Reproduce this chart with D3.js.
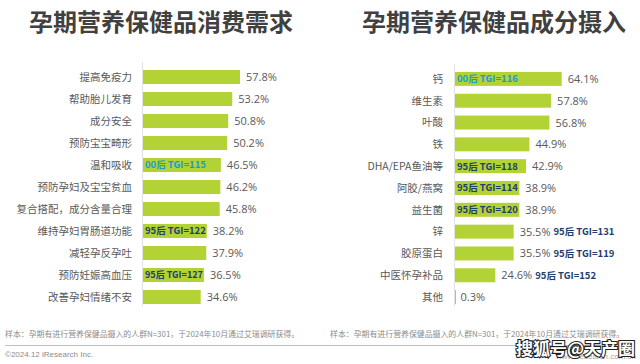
<!DOCTYPE html>
<html><head><meta charset="utf-8">
<script src="https://cdn.jsdelivr.net/npm/d3@7"></script>
<style>body{margin:0;background:#fff}svg{display:block}</style>
</head><body>
<script>
const leftTitle = "孕期营养保健品消费需求";
const leftCats = ["提高免疫力","帮助胎儿发育","成分安全","预防宝宝畸形","温和吸收","预防孕妇及宝宝贫血","复合搭配，成分含量合理","维持孕妇胃肠道功能","减轻孕反孕吐","预防妊娠高血压","改善孕妇情绪不安"];
const leftValues = [57.8,53.2,50.8,50.2,46.5,46.2,45.8,38.2,37.9,36.5,34.6];
const leftTGI = ["","","","","00后 TGI=115","","","95后 TGI=122","","95后 TGI=127",""];
const leftTGIOutside = [false,false,false,false,false,false,false,false,false,false,false];

const rightTitle = "孕期营养保健品成分摄入";
const rightCats = ["钙","维生素","叶酸","铁","DHA/EPA鱼油等","阿胶/燕窝","益生菌","锌","胶原蛋白","中医怀孕补品","其他"];
const rightValues = [64.1,57.8,56.8,44.9,42.9,38.9,38.9,35.5,35.5,24.6,0.3];
const rightTGI = ["00后 TGI=116","","","","95后 TGI=118","95后 TGI=114","95后 TGI=120","95后 TGI=131","95后 TGI=119","95后 TGI=152",""];
const rightTGIOutside = [false,false,false,false,false,false,false,true,true,true,false];

const footnote = "样本：孕期有进行营养保健品摄入的人群N=301，于2024年10月通过艾瑞调研获得。";
const copyright = "©2024.12 iResearch Inc.";

const W = 640, H = 364;
const FONT = "'Noto Sans CJK SC','Noto Sans',sans-serif";
const BAR = "#b3d235";
const svg = d3.select("body").append("svg").attr("width", W).attr("height", H)
  .style("font-family", FONT);

function panel(cfg) {
  const {cats, values, tgi, outside, x0, pxPer, yRange, labelX, title, titleX} = cfg;
  const x = d3.scaleLinear().domain([0, 100]).range([x0, x0 + 100 * pxPer]);
  const y = d3.scaleBand().domain(cats).range(yRange).paddingInner(0.36).paddingOuter(0.18);
  const g = svg.append("g");
  g.append("text").attr("x", titleX).attr("y", 31).attr("text-anchor", "middle")
    .attr("font-size", 24).attr("font-weight", "bold").attr("fill", "#404040").text(title);
  g.append("line").attr("x1", x0 + 0.5).attr("x2", x0 + 0.5)
    .attr("y1", yRange[0] - 4).attr("y2", yRange[1] - 2)
    .attr("stroke", "#e3e3e3").attr("stroke-width", 1);
  g.selectAll("rect.bar").data(cats).join("rect").attr("class", "bar")
    .attr("x", x0 + 1).attr("y", d => y(d))
    .attr("width", (d, i) => Math.max(1, x(values[i]) - x0 - 1))
    .attr("height", y.bandwidth()).attr("fill", BAR);
  g.selectAll("text.cat").data(cats).join("text").attr("class", "cat")
    .attr("x", labelX).attr("y", d => y(d) + y.bandwidth() / 2)
    .attr("dy", "0.36em").attr("text-anchor", "end")
    .attr("font-size", 10.5).attr("fill", "#595959").text(d => d);
  const vl = g.selectAll("text.val").data(cats).join("text").attr("class", "val")
    .attr("x", (d, i) => x(values[i]) + 6).attr("y", d => y(d) + y.bandwidth() / 2)
    .attr("dy", "0.36em").attr("font-size", 11).attr("fill", "#595959")
    .attr("font-family", "'Open Sans','Noto Sans',sans-serif")
    .text((d, i) => values[i].toFixed(1) + "%");
  const nodes = vl.nodes();
  const t = g.selectAll("text.tgi").data(cats).join("text").attr("class", "tgi")
    .attr("x", (d, i) => outside[i] ? x(values[i]) + 6 + nodes[i].getComputedTextLength() + 3 : x0 + 3)
    .attr("y", d => y(d) + y.bandwidth() / 2)
    .attr("dy", "0.36em").attr("font-size", 9.5).attr("font-weight", "bold")
    .attr("fill", (d, i) => tgi[i].startsWith("00") ? "#1a9bd7" : "#1f3e70")
    .text((d, i) => tgi[i]);
  // keep inside labels within their bar (as in the reference)
  t.each(function(d, i) {
    if (!tgi[i] || outside[i]) return;
    const avail = x(values[i]) - x0 - 4;
    if (this.getComputedTextLength() > avail) {
      d3.select(this).attr("textLength", avail).attr("lengthAdjust", "spacingAndGlyphs");
    }
  });
}

panel({cats: leftCats, values: leftValues, tgi: leftTGI, outside: leftTGIOutside,
  x0: 142, pxPer: 1.696, yRange: [66, 308], labelX: 132, title: leftTitle, titleX: 161});
panel({cats: rightCats, values: rightValues, tgi: rightTGI, outside: rightTGIOutside,
  x0: 454, pxPer: 1.68, yRange: [68, 308], labelX: 443, title: rightTitle, titleX: 494});

svg.append("text").attr("x", 5).attr("y", 337).attr("font-size", 7.9).attr("fill", "#8c8c8c").text(footnote);
svg.append("text").attr("x", 330).attr("y", 337).attr("font-size", 7.9).attr("fill", "#8c8c8c").text(footnote);
svg.append("line").attr("x1", 5).attr("x2", 632).attr("y1", 345.5).attr("y2", 345.5)
  .attr("stroke", "#bfbfbf").attr("stroke-width", 1);
svg.append("text").attr("x", 5).attr("y", 357).attr("font-size", 8).attr("fill", "#8c8c8c")
  .attr("font-family", "'Liberation Sans',sans-serif").text(copyright);
svg.append("text").attr("x", 636).attr("y", 359).attr("text-anchor", "end").attr("font-size", 8)
  .attr("fill", "#a6a6a6").attr("font-family", "'Liberation Sans',sans-serif").text("www.iresearch.com.cn");
svg.append("text").attr("x", 516).attr("y", 355).attr("font-size", 17).attr("font-weight", "bold")
  .attr("fill", "#ffffff").attr("stroke", "#222").attr("stroke-width", 2.2).attr("paint-order", "stroke")
  .text("搜狐号@天产圈");
</script>
</body></html>
